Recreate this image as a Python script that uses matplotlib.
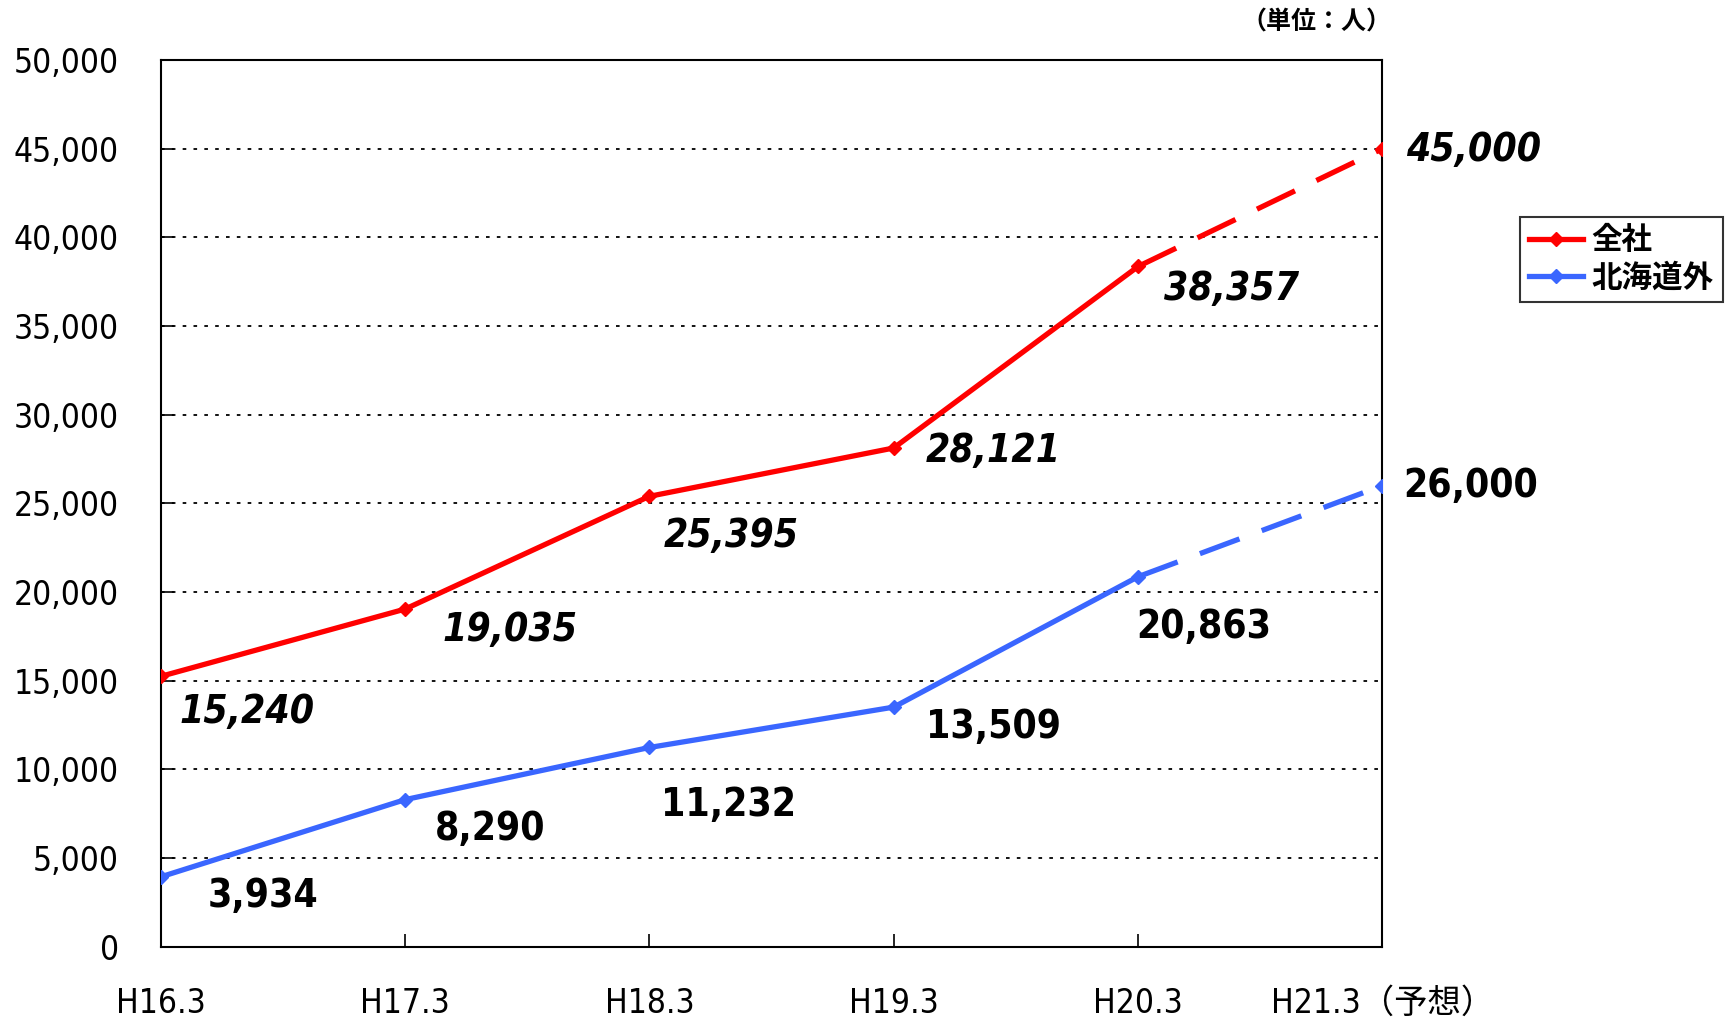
import matplotlib
matplotlib.use("Agg")
import matplotlib.pyplot as plt
from matplotlib.lines import Line2D
from matplotlib import font_manager as fm

# pick a narrow latin font if one is installed
entries = fm.fontManager.ttflist
names = {f.name for f in entries}
stretch = 'normal'
if 'Liberation Sans Narrow' in names:
    latin = 'Liberation Sans Narrow'
    W = 1.1
elif any(f.name == 'DejaVu Sans' and 'Condensed' in f.fname for f in entries):
    latin = 'DejaVu Sans'
    stretch = 'condensed'
    W = 1.0
elif 'Roboto Condensed' in names:
    latin = 'Roboto Condensed'
    W = 1.05
else:
    latin = 'Liberation Sans'
    W = 0.95

plt.rcParams['font.family'] = [latin, 'Noto Sans CJK JP', 'DejaVu Sans']
plt.rcParams['font.stretch'] = stretch

categories = ["H16.3", "H17.3", "H18.3", "H19.3", "H20.3", "H21.3（予想）"]
total = [15240, 19035, 25395, 28121, 38357, 45000]
outside = [3934, 8290, 11232, 13509, 20863, 26000]
series_names = ["全社", "北海道外"]
yticks = list(range(0, 50001, 5000))

red = "#FF0000"
blue = "#3A66FF"

fig = plt.figure(figsize=(17.27, 10.22), dpi=100)
ax = fig.add_axes([0.093, 0.0737, 0.7075, 0.8676])
x = list(range(len(categories)))

for vals, col in [(total, red), (outside, blue)]:
    ax.plot(x[:5], vals[:5], color=col, lw=3.8, solid_capstyle='butt', zorder=3)
    ax.plot(x[4:], vals[4:], color=col, lw=3.8, dashes=(8, 4.5), zorder=3)
    ax.plot(x, vals, ls='none', marker='D', ms=7, color=col, zorder=4)

ax.set_xlim(0, 5)
ax.set_ylim(0, 50000)
ax.set_yticks(yticks)
ax.set_yticklabels([f"{v:,}" for v in yticks])
ax.set_xticks(x)
ax.set_xticklabels(categories)
ax.tick_params(axis='y', direction='in', length=9.5, width=1.2, labelsize=24 * W, pad=30)
ax.tick_params(axis='x', direction='in', length=9.5, width=1.2, labelsize=24 * W, pad=29)
ax.yaxis.grid(True, color='black', linestyle=(0, (2, 4)), linewidth=1.3)
for s in ax.spines.values():
    s.set_linewidth(1.5)
    s.set_color('black')

# data labels (offsets in pixels)
total_off = [(86, -36), (105, -21), (82, -40), (100, -3), (93, -23), (87, -1)]
outside_off = [(102, -19), (85, -29), (79, -58), (100, -20), (66, -50), (84, 0)]
LS = 28 * W
for i, (v, off) in enumerate(zip(total, total_off)):
    ha = 'left' if i == 5 else 'center'
    dx = off[0] - 63 if i == 5 else off[0]
    ax.annotate(f"{v:,}", (x[i], v), xytext=(dx, off[1]), textcoords='offset pixels',
                ha=ha, va='center', fontsize=LS, fontweight='bold', fontstyle='italic',
                annotation_clip=False)
for i, (v, off) in enumerate(zip(outside, outside_off)):
    ha = 'left' if i == 5 else 'center'
    dx = off[0] - 63 if i == 5 else off[0]
    ax.annotate(f"{v:,}", (x[i], v), xytext=(dx, off[1]), textcoords='offset pixels',
                ha=ha, va='center', fontsize=LS, fontweight='bold',
                annotation_clip=False)

fig.text(1316/1727, 1 - 22/1022, "（単位：人）", ha='center', va='center',
         fontsize=18, fontweight='bold')

handles = [Line2D([], [], color=red, lw=3.8, marker='D', ms=7),
           Line2D([], [], color=blue, lw=3.8, marker='D', ms=7)]
leg = fig.legend(handles, series_names, loc='upper left',
                 bbox_to_anchor=(1520/1727, 1 - 217/1022),
                 prop={'size': 22, 'weight': 'bold'}, frameon=True, fancybox=False,
                 edgecolor='black', handlelength=1.75, handletextpad=0.3,
                 borderpad=0.3, labelspacing=0.25, borderaxespad=0)
leg.get_frame().set_linewidth(1.5)

fig.savefig("out.png", dpi=100)
